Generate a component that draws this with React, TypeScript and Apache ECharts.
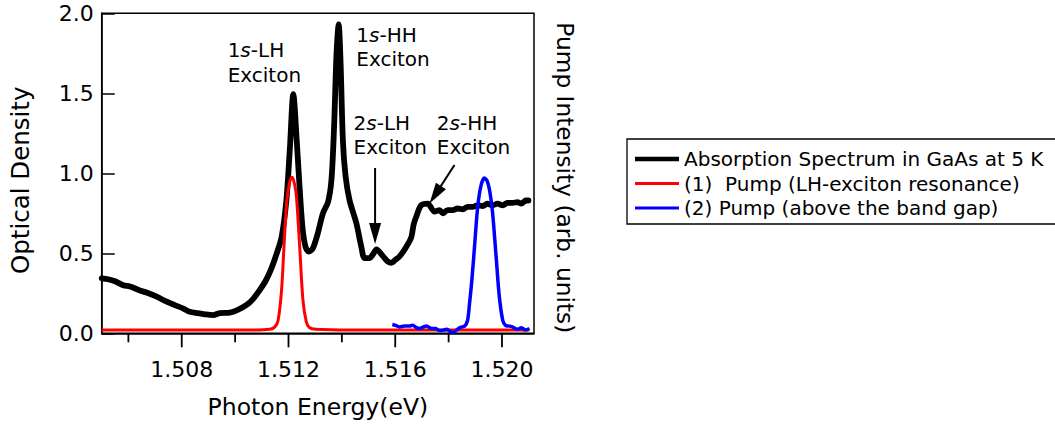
import React, { useEffect, useRef } from "react";
import * as echarts from "echarts";

const FONT = "DejaVu Sans";

// Absorption spectrum of GaAs at 5 K (photon energy in eV, optical density)
const absorptionEnergy = [
  1.505, 1.50524, 1.5055, 1.50581, 1.50606, 1.50643, 1.50673, 1.50706, 1.50737, 1.50774,
  1.50804, 1.5083, 1.5086, 1.50887, 1.50918, 1.50943, 1.5098, 1.5101, 1.51043, 1.51066,
  1.51092, 1.51115, 1.51136, 1.51156, 1.51174, 1.51192, 1.51205, 1.51218, 1.51231, 1.51242,
  1.51253, 1.51264, 1.51276, 1.51291, 1.51309, 1.51329, 1.51348, 1.51361, 1.51371, 1.5138,
  1.51388, 1.51395, 1.51404, 1.51414, 1.51429, 1.51454, 1.51473, 1.51485, 1.51504, 1.51515,
  1.5153, 1.51545, 1.5156, 1.51571, 1.51585, 1.51601, 1.51616, 1.51641, 1.5166, 1.51669,
  1.51679, 1.51697, 1.51722, 1.51747, 1.51766, 1.51778, 1.51796, 1.51816, 1.51833, 1.51853,
  1.51871, 1.5189, 1.51908, 1.51928, 1.51945, 1.51965, 1.51983, 1.52003, 1.5202, 1.5204,
  1.52058, 1.52073, 1.5209, 1.52099,
];
const absorptionOD = [
  0.344, 0.338, 0.325, 0.3, 0.292, 0.268, 0.252, 0.229, 0.202, 0.176,
  0.156, 0.135, 0.126, 0.119, 0.114, 0.126, 0.129, 0.146, 0.177, 0.212,
  0.27, 0.33, 0.406, 0.5, 0.6, 0.83, 1.15, 1.495, 1.2, 0.9,
  0.65, 0.54, 0.51, 0.53, 0.62, 0.75, 0.82, 0.96, 1.3, 1.75,
  1.93, 1.7, 1.2, 0.98, 0.83, 0.69, 0.54, 0.47, 0.47, 0.49,
  0.525, 0.5, 0.47, 0.45, 0.44, 0.46, 0.48, 0.54, 0.6, 0.68,
  0.73, 0.8, 0.81, 0.76, 0.77, 0.75, 0.77, 0.77, 0.78, 0.775,
  0.79, 0.79, 0.8, 0.795, 0.81, 0.8, 0.81, 0.8, 0.815, 0.815,
  0.82, 0.81, 0.83, 0.83,
];

// Pump (1): tuned to the LH-exciton resonance
const pumpLhEnergy = [
  1.505, 1.50681, 1.50868, 1.51055, 1.5113, 1.51149, 1.51161, 1.51174, 1.51183, 1.51194,
  1.51205, 1.51214, 1.51223, 1.5123, 1.51242, 1.51254, 1.51267, 1.51279, 1.51302, 1.51429,
  1.51616, 1.51803, 1.5199, 1.52102,
];
const pumpLhIntensity = [
  0.02, 0.02, 0.02, 0.02, 0.025, 0.04, 0.08, 0.27, 0.54, 0.83,
  0.95, 0.975, 0.93, 0.85, 0.54, 0.21, 0.07, 0.035, 0.025, 0.02,
  0.02, 0.02, 0.02, 0.02,
];

// Pump (2): above the band gap
const pumpGapEnergy = [
  1.51589, 1.51601, 1.51616, 1.51635, 1.51654, 1.51665, 1.5168, 1.51691, 1.51706, 1.51717,
  1.51736, 1.51751, 1.51766, 1.51781, 1.51792, 1.51803, 1.51815, 1.51826, 1.51841, 1.5186,
  1.51871, 1.51878, 1.51887, 1.51897, 1.51909, 1.51921, 1.51934, 1.51945, 1.51955, 1.51965,
  1.51978, 1.5199, 1.52003, 1.52013, 1.52028, 1.52039, 1.52058, 1.52073, 1.52088, 1.52103,
];
const pumpGapIntensity = [
  0.055, 0.05, 0.04, 0.045, 0.045, 0.05, 0.035, 0.03, 0.04, 0.045,
  0.03, 0.03, 0.017, 0.02, 0.025, 0.015, 0.004, 0.015, 0.035, 0.045,
  0.08, 0.18, 0.33, 0.54, 0.79, 0.92, 0.97, 0.95, 0.88, 0.75,
  0.48, 0.23, 0.08, 0.05, 0.045, 0.04, 0.025, 0.035, 0.02, 0.03,
];

const seriesNames = [
  "Absorption Spectrum in GaAs at 5 K",
  "(1)  Pump (LH-exciton resonance)",
  "(2) Pump (above the band gap)",
];
const seriesColors = ["#000000", "#ff0000", "#0000ff"];

const xRange = [1.505, 1.5212];
const xLabelTicks = [1.508, 1.512, 1.516, 1.52];
const xAllTicks = [1.506, 1.508, 1.51, 1.512, 1.514, 1.516, 1.518, 1.52];
const yRange = [0, 2];
const yStep = 0.5;

const xTitle = "Photon Energy(eV)";
const yTitle = "Optical Density";
const y2Title = "Pump Intensity (arb. units)";

// Peak labels, anchored in data units: [energy, OD of first line, OD of second line]
const peakLabels = [
  { num: "1", tail: "-LH", at: [1.50972, 1.771, 1.614] },
  { num: "1", tail: "-HH", at: [1.51454, 1.864, 1.714] },
  { num: "2", tail: "-LH", at: [1.51444, 1.3175, 1.1675] },
  { num: "2", tail: "-HH", at: [1.51756, 1.3175, 1.1675] },
];

// Arrows pointing at the 2s features: [from, to] in data units
const peakArrows = [
  [[1.515245, 1.033], [1.515245, 0.558]],
  [[1.51822, 1.052], [1.517284, 0.811]],
];

const pairs = (xs: number[], ys: number[]) => xs.map((x, i) => [x, ys[i]]);

export default function App() {
  const ref = useRef<HTMLDivElement>(null);

  useEffect(() => {
    document.body.style.margin = "0";
    if (!ref.current) return;
    const chart = echarts.init(ref.current, undefined, { renderer: "svg" });

    const axisText = { fontFamily: FONT, color: "#000" };
    const black = { color: "#000", width: 1.5 };

    chart.setOption({
      animation: false,
      grid: {
        left: 101.7,
        right: 521,
        top: 13.3,
        bottom: 98.7,
        show: true,
        borderColor: "#000",
        borderWidth: 1.5,
        containLabel: false,
        outerBoundsMode: "none",
      },
      legend: {
        orient: "vertical",
        left: 627,
        top: 139,
        padding: [10, 16, 6, 8],
        itemGap: 4.5,
        itemWidth: 44,
        itemHeight: 20,
        borderColor: "#000",
        borderWidth: 1.3,
        selectedMode: false,
        itemStyle: { borderWidth: 0 },
        textStyle: { ...axisText, fontSize: 20 },
        data: [
          { name: seriesNames[0], icon: "path://M0,0h44v4.5h-44z" },
          { name: seriesNames[1], icon: "path://M0,0h44v3h-44z" },
          { name: seriesNames[2], icon: "path://M0,0h44v3h-44z" },
        ],
      },
      xAxis: {
        type: "value",
        min: xRange[0],
        max: xRange[1],
        position: "bottom",
        axisLine: { show: true, lineStyle: black },
        axisTick: { show: false },
        axisLabel: {
          customValues: xLabelTicks,
          formatter: (v: number) => v.toFixed(3),
          fontSize: 22,
          margin: 25,
          ...axisText,
        },
        splitLine: { show: false },
        name: xTitle,
        nameLocation: "middle",
        nameGap: 62,
        nameTextStyle: { ...axisText, fontSize: 23.5 },
      },
      yAxis: [
        {
          type: "value",
          min: yRange[0],
          max: yRange[1],
          interval: yStep,
          position: "left",
          axisLine: { show: true, lineStyle: black },
          axisTick: { show: true, inside: true, length: 13, lineStyle: black },
          axisLabel: { formatter: (v: number) => v.toFixed(1), fontSize: 22, margin: 8, ...axisText },
          splitLine: { show: false },
        },
        {
          type: "value",
          min: yRange[0],
          max: yRange[1],
          position: "right",
          axisLine: { show: false },
          axisTick: { show: false },
          axisLabel: { show: false },
          splitLine: { show: false },
        },
      ],
      series: [
        {
          name: seriesNames[0],
          type: "line",
          data: pairs(absorptionEnergy, absorptionOD),
          yAxisIndex: 0,
          symbol: "none",
          smooth: 0.3,
          color: seriesColors[0],
          lineStyle: { color: seriesColors[0], width: 5.8, cap: "round", join: "round" },
          z: 3,
        },
        {
          name: seriesNames[1],
          type: "line",
          data: pairs(pumpLhEnergy, pumpLhIntensity),
          yAxisIndex: 1,
          symbol: "none",
          smooth: 0.3,
          color: seriesColors[1],
          lineStyle: { color: seriesColors[1], width: 3, join: "round" },
          z: 4,
        },
        {
          name: seriesNames[2],
          type: "line",
          data: pairs(pumpGapEnergy, pumpGapIntensity),
          yAxisIndex: 1,
          symbol: "none",
          smooth: 0.3,
          color: seriesColors[2],
          lineStyle: { color: seriesColors[2], width: 3.5, join: "round" },
          z: 4,
        },
      ],
    });

    const toPx = (p: number[]) =>
      chart.convertToPixel({ xAxisIndex: 0, yAxisIndex: 0 }, p) as number[];

    const graphics: any[] = [];

    // energy ticks below the frame: longer where a label sits
    const axisY = toPx([xRange[0], yRange[0]])[1];
    xAllTicks.forEach((v) => {
      const px = toPx([v, yRange[0]])[0];
      const len = xLabelTicks.includes(v) ? 14 : 9;
      graphics.push({
        type: "line",
        shape: { x1: px, y1: axisY, x2: px, y2: axisY + len },
        style: { stroke: "#000", lineWidth: 1.8 },
      });
    });

    // vertical axis titles
    const plotTop = toPx([xRange[0], yRange[1]])[1];
    const plotMid = (plotTop + axisY) / 2;
    const leftX = toPx([xRange[0], 0])[0];
    const rightX = toPx([xRange[1], 0])[0];
    graphics.push({
      type: "text",
      x: leftX - 81.5,
      y: plotMid + 7,
      rotation: Math.PI / 2,
      style: {
        text: yTitle,
        fontFamily: FONT,
        fontSize: 24.5,
        fill: "#000",
        textAlign: "center",
        textVerticalAlign: "middle",
      },
    });
    graphics.push({
      type: "text",
      x: rightX + 31,
      y: plotMid + 4.5,
      rotation: -Math.PI / 2,
      style: {
        text: y2Title,
        fontFamily: FONT,
        fontSize: 23.3,
        fill: "#000",
        textAlign: "center",
        textVerticalAlign: "middle",
      },
    });

    // peak labels
    peakLabels.forEach((lab) => {
      const [e, od1, od2] = lab.at;
      const p1 = toPx([e, od1]);
      const p2 = toPx([e, od2]);
      graphics.push({
        type: "text",
        x: p1[0],
        y: p1[1],
        style: {
          text: `${lab.num}{i|s}${lab.tail}`,
          fontFamily: FONT,
          fontSize: 20,
          fill: "#000",
          textAlign: "left",
          textVerticalAlign: "middle",
          rich: { i: { fontFamily: FONT, fontSize: 20, fontStyle: "italic", fill: "#000" } },
        },
        z: 10,
      });
      graphics.push({
        type: "text",
        x: p2[0],
        y: p2[1],
        style: {
          text: "Exciton",
          fontFamily: FONT,
          fontSize: 20,
          fill: "#000",
          textAlign: "left",
          textVerticalAlign: "middle",
        },
        z: 10,
      });
    });

    // arrows
    peakArrows.forEach(([from, to]) => {
      const a = toPx(from);
      const b = toPx(to);
      const dx = b[0] - a[0];
      const dy = b[1] - a[1];
      const len = Math.hypot(dx, dy);
      const ux = dx / len;
      const uy = dy / len;
      const head = 21;
      const half = 6;
      const bx = b[0] - ux * head;
      const by = b[1] - uy * head;
      graphics.push({
        type: "line",
        shape: { x1: a[0], y1: a[1], x2: bx + ux * 2, y2: by + uy * 2 },
        style: { stroke: "#000", lineWidth: 2 },
        z: 10,
      });
      graphics.push({
        type: "polygon",
        shape: {
          points: [
            [b[0], b[1]],
            [bx - uy * half, by + ux * half],
            [bx + uy * half, by - ux * half],
          ],
        },
        style: { fill: "#000" },
        z: 10,
      });
    });

    chart.setOption({ graphic: graphics });

    return () => chart.dispose();
  }, []);

  return <div ref={ref} style={{ width: 1055, height: 432 }} />;
}
